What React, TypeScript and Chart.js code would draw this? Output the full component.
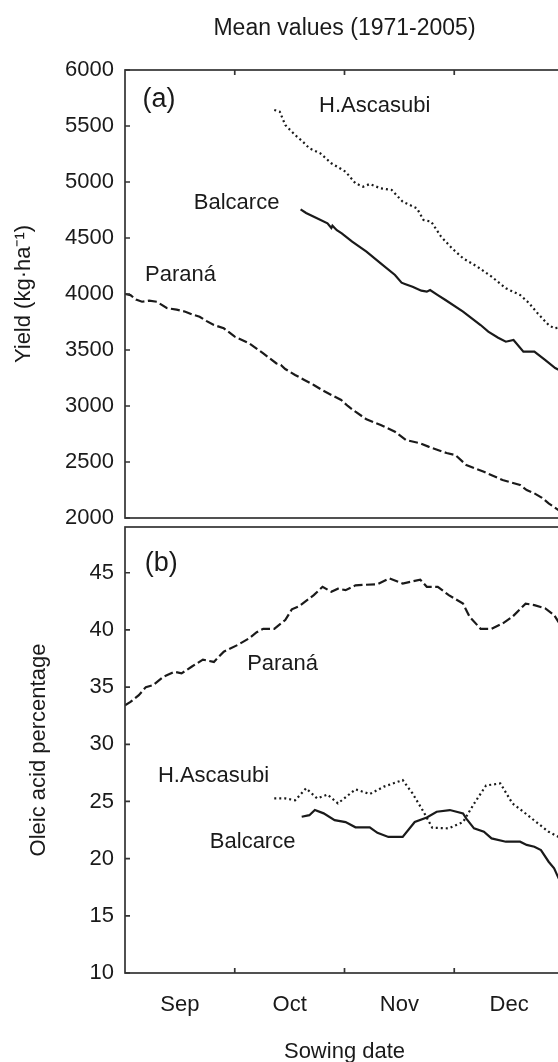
import React, { useEffect, useRef } from 'react';
import { Chart, registerables } from 'chart.js';

Chart.register(...registerables);

const FONT = "'Liberation Sans', Arial, Helvetica, sans-serif";
const INK = '#1a1a1a';

// x axis: months from 1 September (0 = Sep 1, 1 = Oct 1, ...)
const MONTHS = ['Sep', 'Oct', 'Nov', 'Dec'];
const MONTH_BOUNDS = [1, 2, 3];

// ---- Panel (a): yield (kg/ha) ----
const PARANA_YIELD_X = [0.0, 0.05, 0.1, 0.155, 0.22, 0.29, 0.38, 0.47, 0.55, 0.62, 0.68, 0.74, 0.81, 0.9, 1.0, 1.13, 1.26, 1.38, 1.42, 1.46, 1.55, 1.63, 1.72, 1.8, 1.88, 1.97, 2.03, 2.1, 2.2, 2.33, 2.46, 2.56, 2.69, 2.77, 2.85, 2.93, 3.01, 3.11, 3.27, 3.44, 3.6, 3.66, 3.73, 3.8, 3.86, 3.95, 4.0];
const PARANA_YIELD_Y = [4000, 3990, 3950, 3931, 3940, 3931, 3875, 3860, 3842, 3815, 3797, 3760, 3723, 3694, 3619, 3560, 3470, 3380, 3366, 3330, 3277, 3235, 3188, 3140, 3098, 3054, 3000, 2949, 2881, 2830, 2770, 2696, 2667, 2635, 2607, 2580, 2562, 2473, 2413, 2339, 2295, 2250, 2220, 2180, 2131, 2071, 2040];

const BALCARCE_YIELD_X = [1.6, 1.65, 1.74, 1.845, 1.88, 1.89, 1.93, 1.975, 2.07, 2.2, 2.33, 2.46, 2.52, 2.55, 2.62, 2.7, 2.75, 2.78, 2.85, 2.92, 3.08, 3.24, 3.31, 3.4, 3.47, 3.54, 3.63, 3.73, 3.83, 3.92, 4.0];
const BALCARCE_YIELD_Y = [4756, 4723, 4680, 4631, 4590, 4610, 4570, 4542, 4467, 4378, 4274, 4170, 4101, 4090, 4065, 4030, 4021, 4036, 3990, 3946, 3842, 3723, 3664, 3610, 3574, 3589, 3485, 3485, 3410, 3339, 3300];

const ASCASUBI_YIELD_X = [1.36, 1.41, 1.46, 1.55, 1.62, 1.68, 1.78, 1.88, 2.01, 2.1, 2.17, 2.23, 2.33, 2.43, 2.53, 2.66, 2.72, 2.79, 2.88, 2.98, 3.08, 3.21, 3.34, 3.47, 3.6, 3.68, 3.76, 3.86, 3.91, 3.96, 4.0];
const ASCASUBI_YIELD_Y = [5643, 5628, 5509, 5420, 5360, 5301, 5256, 5167, 5092, 4988, 4958, 4982, 4943, 4929, 4824, 4765, 4661, 4646, 4512, 4408, 4319, 4244, 4155, 4051, 3991, 3920, 3827, 3723, 3694, 3700, 3710];

// ---- Panel (b): oleic acid (%) ----
const PARANA_OLEIC_X = [0.0, 0.05, 0.126, 0.19, 0.255, 0.35, 0.45, 0.515, 0.61, 0.71, 0.81, 0.9, 1.03, 1.13, 1.2, 1.26, 1.36, 1.46, 1.52, 1.59, 1.68, 1.72, 1.8, 1.88, 1.94, 2.01, 2.1, 2.3, 2.41, 2.53, 2.69, 2.75, 2.85, 2.95, 3.08, 3.14, 3.24, 3.34, 3.44, 3.53, 3.65, 3.73, 3.83, 3.91, 3.95, 4.0];
const PARANA_OLEIC_Y = [33.4, 33.7, 34.3, 35.0, 35.17, 35.9, 36.34, 36.2, 36.8, 37.4, 37.2, 38.1, 38.7, 39.26, 39.8, 40.1, 40.1, 40.86, 41.8, 42.1, 42.75, 43.04, 43.77, 43.33, 43.6, 43.48, 43.9, 44.0, 44.5, 44.06, 44.4, 43.77, 43.77, 43.04, 42.3, 41.15, 40.1, 40.1, 40.56, 41.15, 42.3, 42.17, 41.88, 41.3, 40.7, 40.3];

const ASCASUBI_OLEIC_X = [1.36, 1.46, 1.55, 1.65, 1.75, 1.845, 1.94, 2.1, 2.23, 2.36, 2.53, 2.62, 2.72, 2.8, 2.95, 3.08, 3.18, 3.29, 3.42, 3.53, 3.63, 3.76, 3.86, 3.95, 4.0];
const ASCASUBI_OLEIC_Y = [25.27, 25.27, 25.1, 26.15, 25.27, 25.6, 24.83, 26.06, 25.65, 26.3, 26.87, 25.7, 24.1, 22.7, 22.65, 23.2, 24.8, 26.4, 26.58, 24.83, 24.1, 23.1, 22.35, 21.9, 21.7];

const BALCARCE_OLEIC_X = [1.61, 1.68, 1.73, 1.81, 1.91, 2.01, 2.1, 2.23, 2.3, 2.4, 2.53, 2.64, 2.75, 2.84, 2.96, 3.08, 3.11, 3.18, 3.27, 3.34, 3.47, 3.6, 3.66, 3.73, 3.79, 3.86, 3.91, 3.95, 4.0];
const BALCARCE_OLEIC_Y = [23.66, 23.8, 24.25, 23.96, 23.37, 23.2, 22.74, 22.74, 22.26, 21.9, 21.9, 23.2, 23.6, 24.1, 24.25, 23.96, 23.5, 22.65, 22.35, 21.77, 21.48, 21.48, 21.2, 21.04, 20.75, 19.73, 19.15, 18.3, 17.5];

// in-plot text labels (data coordinates)
const YIELD_LABELS = ['(a)', 'H.Ascasubi', 'Balcarce', 'Paraná'];
const YIELD_LABEL_X = [0.31, 2.275, 1.017, 0.506];
const YIELD_LABEL_Y = [5732, 5679, 4815, 4170];
const OLEIC_LABELS = ['(b)', 'Paraná', 'H.Ascasubi', 'Balcarce'];
const OLEIC_LABEL_X = [0.33, 1.436, 0.807, 1.163];
const OLEIC_LABEL_Y = [45.84, 37.0, 27.25, 21.45];

const PANEL_LETTER_SIZE = 27;
const TEXT_SIZE = 22;
const TITLE_SIZE = 23;

const zip = (xs: number[], ys: number[]) => xs.map((x, i) => ({ x, y: ys[i] }));

const decorPlugin = {
  id: 'decor',
  afterDatasetsDraw(chart: any, _args: any, opts: any) {
    const { ctx, chartArea: a, scales } = chart;
    const xs = scales.x;
    const ys = scales.y;
    ctx.save();
    ctx.strokeStyle = '#333';
    ctx.lineWidth = 1.7;
    ctx.strokeRect(a.left, a.top, a.right - a.left, a.bottom - a.top);
    ctx.beginPath();
    ys.ticks.forEach((t: any) => {
      const py = ys.getPixelForValue(t.value);
      ctx.moveTo(a.left, py);
      ctx.lineTo(a.left + 5, py);
    });
    MONTH_BOUNDS.forEach((m) => {
      const px = xs.getPixelForValue(m);
      if (opts.edge === 'top') {
        ctx.moveTo(px, a.top);
        ctx.lineTo(px, a.top + 5);
      } else {
        ctx.moveTo(px, a.bottom);
        ctx.lineTo(px, a.bottom - 5);
      }
    });
    ctx.stroke();
    ctx.fillStyle = INK;
    ctx.textAlign = 'center';
    ctx.textBaseline = 'middle';
    const labels: string[] = opts.labels || [];
    labels.forEach((txt, i) => {
      const size = txt.startsWith('(') ? PANEL_LETTER_SIZE : TEXT_SIZE;
      ctx.font = `${size}px ${FONT}`;
      ctx.fillText(txt, xs.getPixelForValue(opts.lx[i]), ys.getPixelForValue(opts.ly[i]));
    });
    ctx.restore();
  },
};

const lineDs = (label: string, data: any[], dash: number[]) => ({
  label,
  data,
  borderColor: INK,
  borderWidth: 2.2,
  borderDash: dash,
  pointRadius: 0,
  tension: 0,
  fill: false,
});

const DASHED = [9, 3.5];
const DOTTED = [2, 3];
const SOLID: number[] = [];

const W = 600;
const H = 1062;

export default function App() {
  const topRef = useRef<HTMLCanvasElement>(null);
  const botRef = useRef<HTMLCanvasElement>(null);

  useEffect(() => {
    Chart.defaults.font.family = FONT;
    Chart.defaults.color = INK;

    const yTickFont = { size: TEXT_SIZE, family: FONT };

    const top = new Chart(topRef.current as HTMLCanvasElement, {
      type: 'line',
      data: {
        datasets: [
          lineDs('Paraná', zip(PARANA_YIELD_X, PARANA_YIELD_Y), DASHED),
          lineDs('Balcarce', zip(BALCARCE_YIELD_X, BALCARCE_YIELD_Y), SOLID),
          lineDs('H.Ascasubi', zip(ASCASUBI_YIELD_X, ASCASUBI_YIELD_Y), DOTTED),
        ],
      },
      options: {
        animation: false,
        responsive: false,
        events: [],
        layout: { padding: { top: 0, left: 0, right: 36, bottom: 544 } },
        plugins: {
          legend: { display: false },
          tooltip: { enabled: false },
          title: {
            display: true,
            text: 'Mean values (1971-2005)',
            fullSize: false,
            color: INK,
            font: { size: TITLE_SIZE, family: FONT, weight: 'normal', lineHeight: 1.2 },
            padding: { top: 15, bottom: 27.4 },
          },
          decor: { edge: 'top', labels: YIELD_LABELS, lx: YIELD_LABEL_X, ly: YIELD_LABEL_Y },
        } as any,
        scales: {
          x: { type: 'linear', display: false, min: 0, max: 4 },
          y: {
            min: 2000,
            max: 6000,
            afterFit: (s: any) => { s.width = 125; },
            grid: { display: false, drawTicks: false },
            border: { display: false },
            ticks: { stepSize: 500, padding: 11, color: INK, font: yTickFont, callback: (v: any) => String(v) },
            title: {
              display: true,
              text: 'Yield (kg·ha⁻¹)',
              color: INK,
              font: { size: TEXT_SIZE, family: FONT },
              padding: { top: 11, bottom: 0 },
            },
          },
        },
      },
      plugins: [decorPlugin],
    });

    const bot = new Chart(botRef.current as HTMLCanvasElement, {
      type: 'line',
      data: {
        datasets: [
          lineDs('Paraná', zip(PARANA_OLEIC_X, PARANA_OLEIC_Y), DASHED),
          lineDs('H.Ascasubi', zip(ASCASUBI_OLEIC_X, ASCASUBI_OLEIC_Y), DOTTED),
          lineDs('Balcarce', zip(BALCARCE_OLEIC_X, BALCARCE_OLEIC_Y), SOLID),
        ],
      },
      options: {
        animation: false,
        responsive: false,
        events: [],
        layout: { padding: { top: 527, left: 0, right: 36, bottom: 0 } },
        plugins: {
          legend: { display: false },
          tooltip: { enabled: false },
          decor: { edge: 'bottom', labels: OLEIC_LABELS, lx: OLEIC_LABEL_X, ly: OLEIC_LABEL_Y },
        } as any,
        scales: {
          x: {
            type: 'linear',
            min: 0,
            max: 4,
            afterFit: (s: any) => { s.height = 89; },
            afterBuildTicks: (s: any) => { s.ticks = MONTHS.map((_, i) => ({ value: i + 0.5 })); },
            grid: { display: false, drawTicks: false },
            border: { display: false },
            ticks: {
              padding: 19,
              color: INK,
              font: { size: TEXT_SIZE, family: FONT },
              maxRotation: 0,
              autoSkip: false,
              callback: (v: any) => MONTHS[Math.floor(Number(v))],
            },
            title: {
              display: true,
              text: 'Sowing date',
              color: INK,
              font: { size: TEXT_SIZE, family: FONT },
              padding: { top: 0, bottom: -3 },
            },
          },
          y: {
            min: 10,
            max: 49,
            afterFit: (s: any) => { s.width = 125; },
            grid: { display: false, drawTicks: false },
            border: { display: false },
            ticks: { stepSize: 5, includeBounds: false, padding: 11, color: INK, font: yTickFont, callback: (v: any) => String(v) },
            title: {
              display: true,
              text: 'Oleic acid percentage',
              color: INK,
              font: { size: TEXT_SIZE, family: FONT },
              padding: { top: 26, bottom: 0 },
            },
          },
        },
      },
      plugins: [decorPlugin],
    });

    return () => {
      top.destroy();
      bot.destroy();
    };
  }, []);

  return (
    <div style={{ position: 'fixed', left: 0, top: 0, width: 558, height: H, overflow: 'hidden', background: '#fff' }}>
      <canvas ref={topRef} width={W} height={H} style={{ position: 'absolute', left: 0, top: 0, width: W, height: H }} />
      <canvas ref={botRef} width={W} height={H} style={{ position: 'absolute', left: 0, top: 0, width: W, height: H }} />
    </div>
  );
}
